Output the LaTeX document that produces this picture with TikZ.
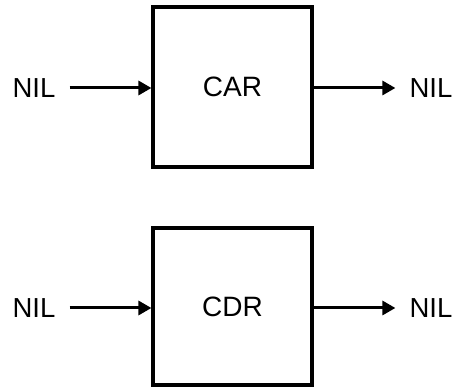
\documentclass[tikz,border=0pt]{standalone}
\usepackage{fontspec}
\setmainfont{Liberation Sans}
\usetikzlibrary{arrows.meta}
\begin{document}
\begin{tikzpicture}[x=1pt,y=1pt,
  fnbox/.style={draw=black,line width=3.1pt,minimum width=159pt,minimum height=#1,inner sep=0pt,font=\fontsize{28}{32}\selectfont},
  niltext/.style={inner xsep=14pt,inner ysep=0pt,font=\fontsize{27.5}{31}\selectfont},
  arr/.style={line width=3pt,-{Triangle[length=13pt,width=14pt]}}]
\useasboundingbox (0,0) rectangle (453,387);
% top
\node[fnbox=160pt] (car) at (232.5,300) {CAR};
\node[niltext] (nil1) at (34,299) {NIL};
\node[niltext] (nil2) at (431,299) {NIL};
\draw[arr] (nil1.east) -- (nil1.east -| car.west);
\draw[arr] (nil2.west -| car.east) -- (nil2.west);
% bottom
\node[fnbox=157pt] (cdr) at (232.5,80.5) {CDR};
\node[niltext] (nil3) at (34,79) {NIL};
\node[niltext] (nil4) at (431,79) {NIL};
\draw[arr] (nil3.east) -- (nil3.east -| cdr.west);
\draw[arr] (nil4.west -| cdr.east) -- (nil4.west);
\end{tikzpicture}
\end{document}
